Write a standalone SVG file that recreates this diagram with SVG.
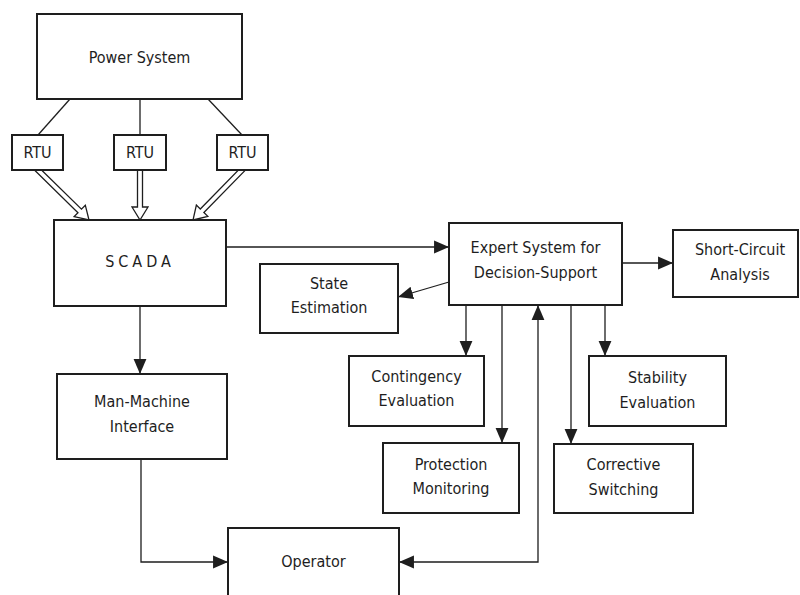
<svg xmlns="http://www.w3.org/2000/svg" width="800" height="595" viewBox="0 0 800 595">
<style>
.box{fill:#fff;stroke:#1e1e1e;stroke-width:2}
.ln{fill:none;stroke:#1e1e1e;stroke-width:1.3}
.ha{fill:#fff;stroke:#1e1e1e;stroke-width:1.3;stroke-linejoin:miter}
text{font-family:"DejaVu Sans Condensed","DejaVu Sans","Liberation Sans",sans-serif;font-size:16px;fill:#1e1e1e;text-anchor:middle}
</style>
<defs>
<marker id="ah" markerUnits="userSpaceOnUse" markerWidth="16" markerHeight="14" refX="14" refY="6" orient="auto-start-reverse" viewBox="0 0 15 12">
<path d="M0,0 L14,6 L0,12 Z" fill="#1e1e1e"/>
</marker>
<path id="hollow" d="M-80,-2.5 L-13,-2.5 L-13,-8 L0,0 L-13,8 L-13,2.5 L-80,2.5 Z"/>
</defs>
<g id="connectors">
<line class="ln" x1="70" y1="99" x2="38" y2="135"/>
<line class="ln" x1="140" y1="99" x2="140" y2="135"/>
<line class="ln" x1="208" y1="99" x2="242" y2="135"/>
<use href="#hollow" class="ha" transform="translate(89,220) rotate(44.4)"/>
<use href="#hollow" class="ha" transform="translate(140,220) rotate(90)"/>
<use href="#hollow" class="ha" transform="translate(193,220) rotate(134.4)"/>
<line class="ln" x1="226" y1="247" x2="449" y2="247" marker-end="url(#ah)"/>
<line class="ln" x1="622" y1="263" x2="673" y2="263" marker-end="url(#ah)"/>
<line class="ln" x1="449" y1="282" x2="398" y2="297" marker-end="url(#ah)"/>
<line class="ln" x1="466" y1="305" x2="466" y2="356" marker-end="url(#ah)"/>
<line class="ln" x1="502" y1="305" x2="502" y2="443" marker-end="url(#ah)"/>
<line class="ln" x1="571" y1="305" x2="571" y2="444" marker-end="url(#ah)"/>
<line class="ln" x1="605" y1="305" x2="605" y2="356" marker-end="url(#ah)"/>
<path class="ln" d="M538,305 V562 H399" marker-start="url(#ah)" marker-end="url(#ah)"/>
<line class="ln" x1="140" y1="306" x2="140" y2="374" marker-end="url(#ah)"/>
<path class="ln" d="M141,459 V562 H228" marker-end="url(#ah)"/>
</g>
<g id="power-system"><rect class="box" x="37" y="14" width="205" height="85"/><text x="139.5" y="63">Power System</text></g>
<g id="rtu-1"><rect class="box" x="12" y="135" width="51" height="35"/><text x="37.5" y="158">RTU</text></g>
<g id="rtu-2"><rect class="box" x="114" y="135" width="52" height="35"/><text x="140" y="158">RTU</text></g>
<g id="rtu-3"><rect class="box" x="217" y="135" width="51" height="35"/><text x="242.5" y="158">RTU</text></g>
<g id="scada"><rect class="box" x="54" y="220" width="172" height="86"/><text x="140" y="267" style="letter-spacing:4px">SCADA</text></g>
<g id="expert-system"><rect class="box" x="449" y="223" width="173" height="82"/><text x="535.5" y="253">Expert System for</text><text x="535.5" y="278">Decision-Support</text></g>
<g id="short-circuit"><rect class="box" x="673" y="230" width="125" height="67"/><text x="740" y="255">Short-Circuit</text><text x="740" y="280">Analysis</text></g>
<g id="state-estimation"><rect class="box" x="260" y="264" width="138" height="69"/><text x="329" y="289">State</text><text x="329" y="313">Estimation</text></g>
<g id="contingency"><rect class="box" x="349" y="356" width="135" height="70"/><text x="416.5" y="382">Contingency</text><text x="416.5" y="406">Evaluation</text></g>
<g id="stability"><rect class="box" x="589" y="356" width="137" height="70"/><text x="657.5" y="383">Stability</text><text x="657.5" y="408">Evaluation</text></g>
<g id="protection"><rect class="box" x="383" y="443" width="136" height="70"/><text x="451" y="470">Protection</text><text x="451" y="494">Monitoring</text></g>
<g id="corrective"><rect class="box" x="554" y="444" width="139" height="69"/><text x="623.5" y="470">Corrective</text><text x="623.5" y="495">Switching</text></g>
<g id="man-machine"><rect class="box" x="57" y="374" width="170" height="85"/><text x="142" y="407">Man-Machine</text><text x="142" y="432">Interface</text></g>
<g id="operator"><rect class="box" x="228" y="528" width="171" height="90"/><text x="313.5" y="567">Operator</text></g>
</svg>
